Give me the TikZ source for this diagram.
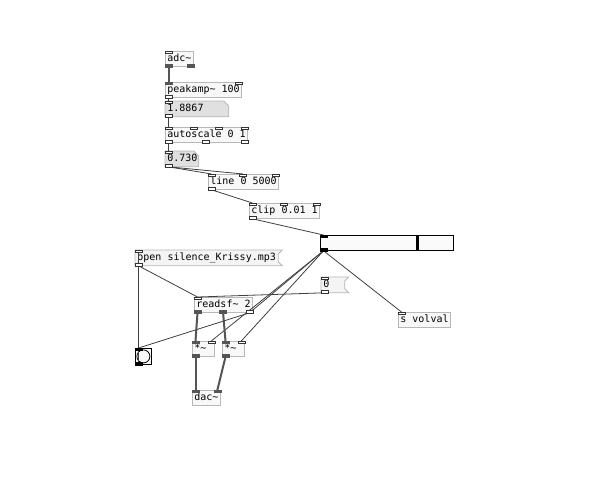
\documentclass[tikz,border=0pt]{standalone}
\usepackage{fontspec}
\newfontfamily\pdfont{DejaVu Sans Mono}
\usetikzlibrary{calc}
\pgfdeclarelayer{bg}
\pgfsetlayers{bg,main}
\definecolor{boxgray}{HTML}{B8B8B8}
\definecolor{numfill}{HTML}{E0E0E0}
\definecolor{msgfill}{HTML}{F4F4F4}
\definecolor{objfill}{HTML}{F8F8F8}
\definecolor{wire}{HTML}{404040}
\definecolor{sigwire}{HTML}{555555}
\tikzset{
  obj/.style={draw=boxgray, fill=objfill, line width=0.8pt, anchor=north west, inner xsep=2pt, inner ysep=0pt,
    minimum height=15pt, align=left, font=\pdfont\fontsize{10}{12}\selectfont, text height=7.5pt, text depth=2.5pt},
  atom/.style={obj, draw=none, fill=none},
  msgbox/.style={obj, draw=none, fill=none},
  ctlio/.style={draw=black!80, fill=white, line width=0.6pt},
  sigio/.style={draw=sigwire, fill=sigwire, line width=0.6pt},
  blkio/.style={draw=black, fill=black, line width=0.6pt},
  ctl/.style={draw=wire, line width=0.8pt},
  sig/.style={draw=sigwire, line width=2pt},
}
\newcommand\pdIn[3]{\path[#3] ($(#1.north west)+(#2,0)$) rectangle ++(7,2.5);}
\newcommand\pdInR[2]{\path[#2] ($(#1.north east)+(-7,0)$) rectangle ++(7,2.5);}
\newcommand\pdOut[3]{\path[#3] ($(#1.south west)+(#2,0)$) rectangle ++(7,-2.5);}
\newcommand\pdOutR[2]{\path[#2] ($(#1.south east)+(-7,0)$) rectangle ++(7,-2.5);}
\newcommand\pdWire[5]{\draw[#1] ($(#2)+(#3,0)$) -- ($(#4)+(#5,0)$);}
\begin{document}
\begin{tikzpicture}[x=1pt, y=-1pt]
\useasboundingbox (0,0) rectangle (612,488);

% boxes
\node[obj] (adc) at (165,51) {adc\textasciitilde};
\node[obj] (peak) at (165,82) {peakamp\textasciitilde{} 100};
\node[atom, text width=59pt] (numA) at (165,101) {1.8867};
\node[obj] (auto) at (165,127) {autoscale 0 1};
\node[atom, text width=29pt] (numB) at (165,151) {0.730};
\node[obj] (lin) at (208,174) {line 0 5000};
\node[obj] (clip) at (249,203) {clip 0.01 1};
\node[draw=black, fill=white!98!black, line width=0.8pt, anchor=north west, inner sep=0pt,
  minimum width=133pt, minimum height=15pt] (sl) at (320,235) {};
\node[msgbox] (open) at (135,250) {open silence\_Krissy.mp3};
\node[msgbox, text width=19pt] (zero) at (321,277) {0};
\node[obj] (svol) at (398,312) {s volval};
\node[obj] (rsf) at (194,297) {readsf\textasciitilde{} 2};
\node[obj, text width=18pt] (mulL) at (192,341) {*\textasciitilde};
\node[obj, text width=18pt] (mulR) at (222,341) {*\textasciitilde};
\node[obj] (dac) at (192,390) {dac\textasciitilde};
\node[draw=black, fill=white!98!black, line width=0.8pt, anchor=north west, inner sep=0pt,
  minimum width=16pt, minimum height=16pt] (bng) at (135,348) {};
\draw[black, line width=0.8pt] (bng.center) circle (6.5);

% slider knob
\draw[black, line width=3pt] ($(sl.north west)+(97,1)$) -- ($(sl.south west)+(97,-1)$);

% background and shaped boxes
\begin{pgfonlayer}{bg}
\fill[white] (0,0) rectangle (612,488);
\filldraw[fill=numfill, draw=boxgray, line width=0.8pt] (numA.north west) -- ($(numA.north east)+(-5,0)$) -- ($(numA.north east)+(0,5)$) -- (numA.south east) -- (numA.south west) -- cycle;
\filldraw[fill=numfill, draw=boxgray, line width=0.8pt] (numB.north west) -- ($(numB.north east)+(-5,0)$) -- ($(numB.north east)+(0,5)$) -- (numB.south east) -- (numB.south west) -- cycle;
\filldraw[fill=msgfill, draw=boxgray, line width=0.8pt] (open.north west) -- ($(open.north east)+(4,0)$) -- ($(open.north east)+(0,4)$) -- ($(open.south east)+(0,-4)$) -- ($(open.south east)+(4,0)$) -- (open.south west) -- cycle;
\filldraw[fill=msgfill, draw=boxgray, line width=0.8pt] (zero.north west) -- ($(zero.north east)+(4,0)$) -- ($(zero.north east)+(0,4)$) -- ($(zero.south east)+(0,-4)$) -- ($(zero.south east)+(4,0)$) -- (zero.south west) -- cycle;
\end{pgfonlayer}

% connections
\pdWire{sig}{adc.south west}{3.5}{peak.north west}{3.5}
\pdWire{ctl}{peak.south west}{3.5}{numA.north west}{3.5}
\pdWire{ctl}{numA.south west}{3.5}{auto.north west}{3.5}
\pdWire{ctl}{auto.south west}{3.5}{numB.north west}{3.5}
\pdWire{ctl}{numB.south west}{3.5}{lin.north west}{3.5}
\pdWire{ctl}{numB.south west}{3.5}{lin.north west}{35.1}
\pdWire{ctl}{lin.south west}{3.5}{clip.north west}{3.5}
\pdWire{ctl}{clip.south west}{3.5}{sl.north west}{3.5}
\pdWire{ctl}{sl.south west}{3.5}{mulL.north east}{-3.5}
\pdWire{ctl}{sl.south west}{3.5}{mulR.north east}{-3.5}
\pdWire{ctl}{sl.south west}{3.5}{svol.north west}{3.5}
\pdWire{ctl}{sl.south west}{3.5}{rsf.south east}{-3.5}
\pdWire{ctl}{open.south west}{3.5}{rsf.north west}{3.5}
\pdWire{ctl}{zero.south west}{3.5}{rsf.north west}{3.5}
\pdWire{sig}{rsf.south west}{3.5}{mulL.north west}{3.5}
\pdWire{sig}{rsf.south west}{29.1}{mulR.north west}{3.5}
\pdWire{ctl}{rsf.south east}{-3.5}{bng.north west}{3.5}
\pdWire{ctl}{bng.south west}{3.5}{open.north west}{3.5}
\pdWire{sig}{mulL.south west}{3.5}{dac.north west}{3.5}
\pdWire{sig}{mulR.south west}{3.5}{dac.north east}{-3.5}

% inlets and outlets
\pdIn{adc}{0}{ctlio} \pdOut{adc}{0}{sigio} \pdOutR{adc}{sigio}
\pdIn{peak}{0}{sigio} \pdInR{peak}{ctlio} \pdOut{peak}{0}{ctlio}
\pdIn{numA}{0}{ctlio} \pdOut{numA}{0}{ctlio}
\pdIn{auto}{0}{ctlio} \pdIn{auto}{25.1}{ctlio} \pdIn{auto}{50.2}{ctlio} \pdInR{auto}{ctlio}
\pdOut{auto}{0}{ctlio} \pdOut{auto}{37.6}{ctlio} \pdOutR{auto}{ctlio}
\pdIn{numB}{0}{ctlio} \pdOut{numB}{0}{ctlio}
\pdIn{lin}{0}{ctlio} \pdIn{lin}{31.6}{ctlio} \pdInR{lin}{ctlio} \pdOut{lin}{0}{ctlio}
\pdIn{clip}{0}{ctlio} \pdIn{clip}{31.6}{ctlio} \pdInR{clip}{ctlio} \pdOut{clip}{0}{ctlio}
\pdIn{sl}{0}{blkio} \pdOut{sl}{0}{blkio}
\pdIn{open}{0}{ctlio} \pdOut{open}{0}{ctlio}
\pdIn{zero}{0}{ctlio} \pdOut{zero}{0}{ctlio}
\pdIn{svol}{0}{ctlio}
\pdIn{rsf}{0}{ctlio} \pdOut{rsf}{0}{sigio} \pdOut{rsf}{25.6}{sigio} \pdOutR{rsf}{ctlio}
\pdIn{mulL}{0}{sigio} \pdInR{mulL}{ctlio} \pdOut{mulL}{0}{sigio}
\pdIn{mulR}{0}{sigio} \pdInR{mulR}{ctlio} \pdOut{mulR}{0}{sigio}
\pdIn{dac}{0}{sigio} \pdInR{dac}{sigio}
\pdIn{bng}{0}{blkio} \pdOut{bng}{0}{blkio}
\end{tikzpicture}
\end{document}
